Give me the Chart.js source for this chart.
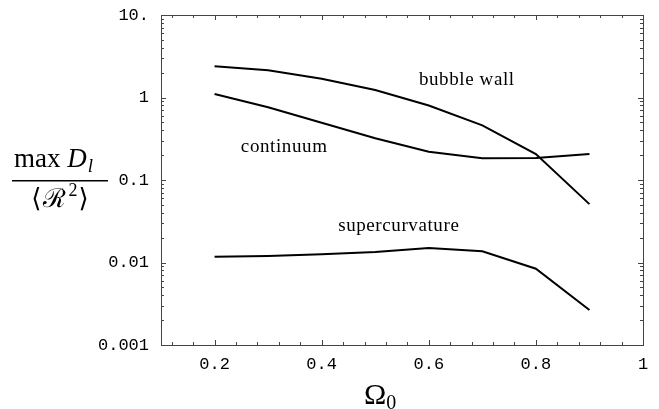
<!DOCTYPE html>
<html>
<head>
<meta charset="utf-8">
<script src="https://cdn.jsdelivr.net/npm/chart.js@4/dist/chart.umd.min.js"></script>
<style>
  html, body { margin: 0; padding: 0; background: #fff; }
  #wrap { width: 659px; height: 409px; }
</style>
</head>
<body>
<div id="wrap"><canvas id="chart" width="659" height="409"></canvas></div>
<script>
// values
const omega = [0.2, 0.3, 0.4, 0.5, 0.6, 0.7, 0.8, 0.9];
const bubbleWall = [2.39, 2.14, 1.69, 1.23, 0.80, 0.46, 0.206, 0.051];
const continuum = [1.10, 0.76, 0.495, 0.32, 0.22, 0.183, 0.185, 0.206];
const supercurvature = [0.0117, 0.0120, 0.0126, 0.0134, 0.0150, 0.0137, 0.0084, 0.00265];

const xTicks = [0.2, 0.4, 0.6, 0.8, 1];
const xTickLabels = ["0.2", "0.4", "0.6", "0.8", "1"];
const yTicks = [0.001, 0.01, 0.1, 1, 10];
const yTickLabels = ["0.001", "0.01", "0.1", "1", "10."];

const curveLabels = [
    { text: "bubble wall", x: 0.671, y: 1.63 },
    { text: "continuum", x: 0.33, y: 0.25 },
    { text: "supercurvature", x: 0.544, y: 0.0277 }
];

function pts(ys) {
    return omega.map((x, i) => ({ x: x, y: ys[i] }));
}

function lineSet(name, ys) {
    return {
        label: name,
        data: pts(ys),
        borderColor: "#000",
        borderWidth: 2,
        pointRadius: 0,
        tension: 0,
        fill: false
    };
}

// Mathematica style frame with inward ticks on all four sides
const framePlugin = {
    id: "frame",
    afterDraw(chart) {
        const ctx = chart.ctx;
        const a = chart.chartArea;
        const xs = chart.scales.x;
        const ys = chart.scales.y;
        ctx.save();
        ctx.strokeStyle = "#444";
        ctx.lineWidth = 1;
        ctx.strokeRect(a.left + 0.5, a.top + 0.5, a.right - a.left, a.bottom - a.top);

        ctx.beginPath();
        for (let k = 3; k < 25; k++) {
            const px = Math.round(xs.getPixelForValue(k * 0.04)) + 0.5;
            const len = k % 5 === 0 ? 5 : 3;
            ctx.moveTo(px, a.bottom);
            ctx.lineTo(px, a.bottom - len);
            ctx.moveTo(px, a.top);
            ctx.lineTo(px, a.top + len);
        }
        for (let d = -3; d <= 0; d++) {
            for (let m = 1; m <= 9; m++) {
                if (d === -3 && m === 1) continue;
                const py = Math.round(ys.getPixelForValue(m * Math.pow(10, d))) + 0.5;
                const len = m === 1 ? 5 : 3;
                ctx.moveTo(a.left, py);
                ctx.lineTo(a.left + len, py);
                ctx.moveTo(a.right, py);
                ctx.lineTo(a.right - len, py);
            }
        }
        ctx.stroke();
        ctx.restore();
    }
};

// curve names and the two axis titles
const textPlugin = {
    id: "texts",
    afterDraw(chart) {
        const ctx = chart.ctx;
        const xs = chart.scales.x;
        const ys = chart.scales.y;
        ctx.save();
        ctx.fillStyle = "#000";
        ctx.textBaseline = "middle";
        ctx.textAlign = "center";
        ctx.font = "19px 'Liberation Serif'";
        ctx.letterSpacing = "0.6px";
        curveLabels.forEach(l => {
            ctx.fillText(l.text, xs.getPixelForValue(l.x), ys.getPixelForValue(l.y));
        });
        ctx.letterSpacing = "0px";

        // x title: Omega_0
        ctx.textBaseline = "alphabetic";
        ctx.textAlign = "left";
        ctx.font = "30px 'Liberation Serif'";
        const ox = 364;
        ctx.fillText("\u03A9", ox, 404);
        const ow = ctx.measureText("\u03A9").width;
        ctx.font = "20px 'Liberation Serif'";
        ctx.fillText("0", ox + ow, 409);

        // y title: max D_l / <R^2>
        ctx.font = "27px 'Liberation Serif'";
        const topX = 14;
        ctx.fillText("max ", topX, 167);
        let w = ctx.measureText("max ").width;
        ctx.font = "italic 27px 'Liberation Serif'";
        ctx.fillText("D", topX + w, 167);
        w += ctx.measureText("D").width;
        ctx.font = "italic 19px 'Liberation Serif'";
        ctx.fillText("l", topX + w + 1, 172);

        ctx.fillRect(12, 180, 96, 1.5);

        const parts = [
            { t: "\u27E8", f: "26px 'DejaVu Sans'", dy: 0, gap: 1 },
            { t: "\u211B", f: "26px 'DejaVu Serif'", dy: 0, gap: 3 },
            { t: "2", f: "18px 'Liberation Serif'", dy: -11, gap: 1 },
            { t: "\u27E9", f: "26px 'DejaVu Sans'", dy: 0, gap: 0 }
        ];
        let total = 0;
        parts.forEach(p => { ctx.font = p.f; total += ctx.measureText(p.t).width + p.gap; });
        let bx = 60 - total / 2;
        parts.forEach(p => {
            ctx.font = p.f;
            ctx.fillText(p.t, bx, 207 + p.dy);
            bx += ctx.measureText(p.t).width + p.gap;
        });
        ctx.restore();
    }
};

new Chart(document.getElementById("chart"), {
    type: "line",
    data: {
        datasets: [
            lineSet("bubble wall", bubbleWall),
            lineSet("continuum", continuum),
            lineSet("supercurvature", supercurvature)
        ]
    },
    options: {
        responsive: false,
        animation: false,
        layout: { padding: { top: 15, right: 16, left: 0, bottom: 0 } },
        plugins: {
            legend: { display: false },
            tooltip: { enabled: false }
        },
        scales: {
            x: {
                type: "linear",
                min: 0.1,
                max: 1,
                grid: { display: false },
                border: { display: false },
                afterBuildTicks(scale) {
                    scale.ticks = xTicks.map(v => ({ value: v }));
                },
                afterFit(scale) { scale.height = 64; },
                ticks: {
                    padding: 1,
                    color: "#000",
                    font: { family: "'Liberation Mono'", size: 17 },
                    maxRotation: 0,
                    autoSkip: false,
                    callback: (v, i) => xTickLabels[i]
                }
            },
            y: {
                type: "logarithmic",
                min: 0.001,
                max: 10,
                grid: { display: false },
                border: { display: false },
                afterBuildTicks(scale) {
                    scale.ticks = yTicks.map(v => ({ value: v }));
                },
                afterFit(scale) { scale.width = 161; },
                ticks: {
                    padding: 4,
                    color: "#000",
                    font: { family: "'Liberation Mono'", size: 17 },
                    autoSkip: false,
                    callback: (v, i) => yTickLabels[i]
                }
            }
        }
    },
    plugins: [framePlugin, textPlugin]
});
</script>
</body>
</html>
